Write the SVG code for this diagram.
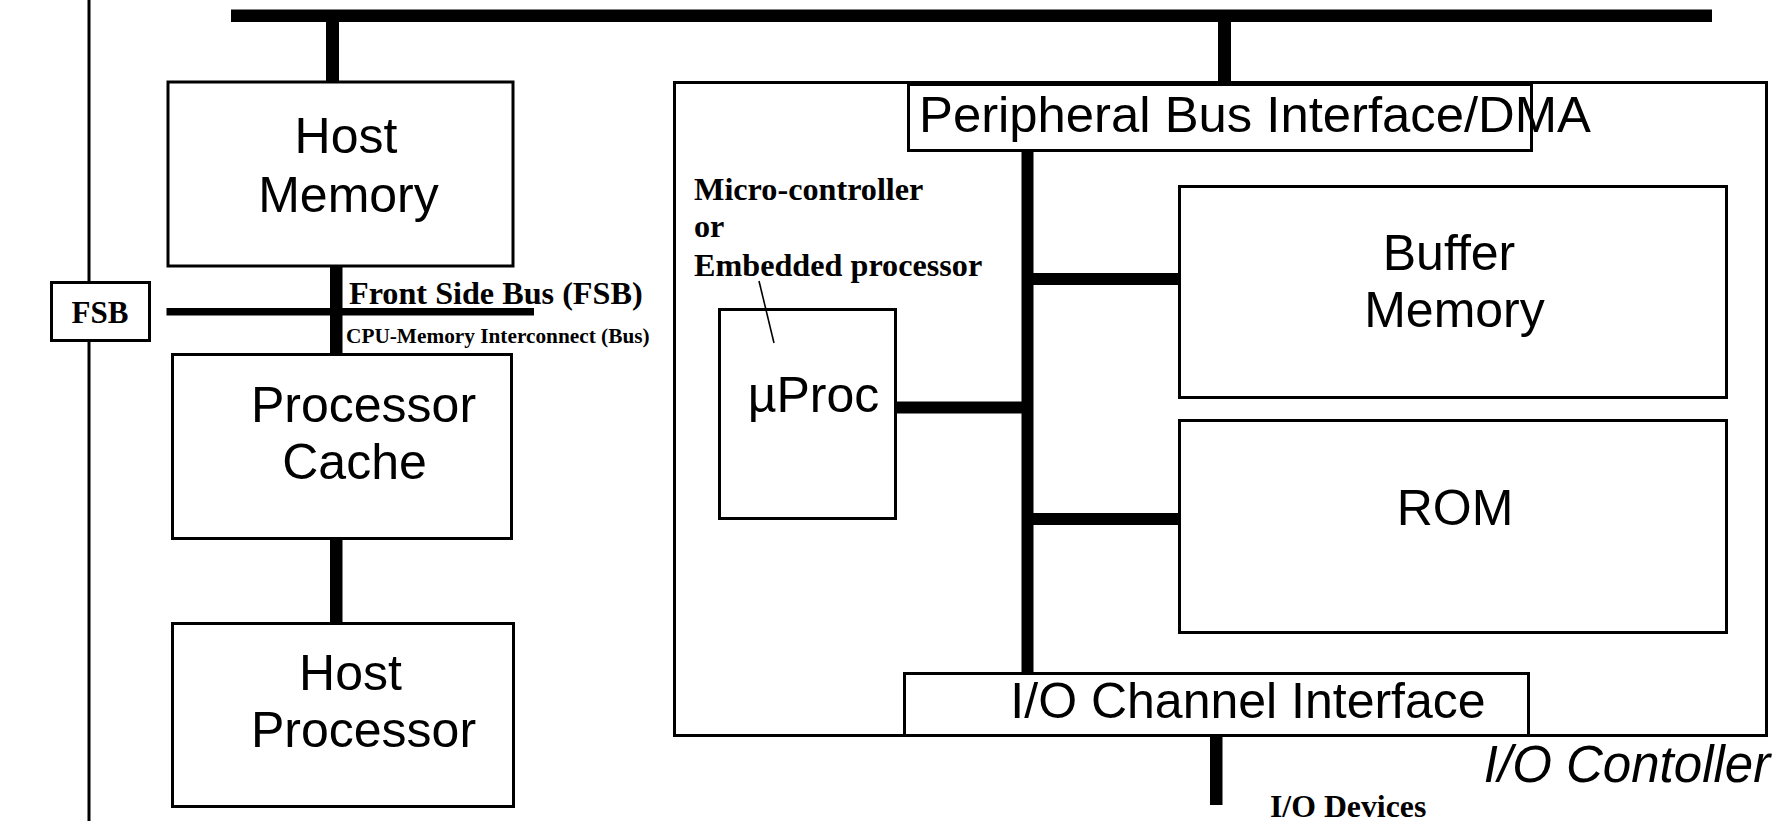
<svg xmlns="http://www.w3.org/2000/svg" width="1783" height="821" viewBox="0 0 1783 821">
<style>
.box{fill:#fff;stroke:#000;stroke-width:3}
.bar{fill:#000}
.sans{font-family:"Liberation Sans",Arial,sans-serif;font-size:50px;fill:#000;text-anchor:middle}
.lbl{font-family:"Liberation Serif","Times New Roman",serif;font-weight:bold;font-size:32.2px;fill:#000}
</style>
<rect width="1783" height="821" fill="#fff"/>
<g id="connectors">
  <rect class="bar" x="87.5" y="0" width="3" height="821"/>
  <rect class="bar" x="231" y="9.5" width="1481" height="12.5"/>
  <rect class="bar" x="326" y="21" width="13" height="63"/>
  <rect class="bar" x="1218" y="21" width="13" height="65"/>
  <rect class="bar" x="166.5" y="308" width="367.5" height="7.5"/>
  <rect class="bar" x="330" y="267" width="12.5" height="88"/>
  <rect class="bar" x="330" y="538" width="12.5" height="86"/>
  <rect class="bar" x="1021.5" y="151" width="12" height="522"/>
  <rect class="bar" x="896" y="401.5" width="132" height="12"/>
  <rect class="bar" x="1028" y="273" width="152" height="12"/>
  <rect class="bar" x="1028" y="513" width="158" height="12"/>
  <rect class="bar" x="1210" y="736" width="12.5" height="69"/>
  <line x1="759" y1="281" x2="774" y2="343" stroke="#000" stroke-width="1.6"/>
</g>
<g id="fsb">
  <rect class="box" x="51.5" y="282.5" width="98" height="58"/>
  <text class="lbl" x="100" y="323" text-anchor="middle" style="font-size:31px">FSB</text>
</g>
<g id="host-memory">
  <rect class="box" x="168" y="82" width="345" height="184"/>
  <text class="sans" x="346" y="153">Host</text>
  <text class="sans" x="348.5" y="212">Memory</text>
</g>
<g id="fsb-labels">
  <text class="lbl" x="349" y="304">Front Side Bus (FSB)</text>
  <text class="lbl" x="346" y="343" style="font-size:21.3px">CPU-Memory Interconnect (Bus)</text>
</g>
<g id="processor-cache">
  <rect class="box" x="172.5" y="354.5" width="339" height="184"/>
  <text class="sans" x="363.5" y="422">Processor</text>
  <text class="sans" x="354.5" y="479">Cache</text>
</g>
<g id="host-processor">
  <rect class="box" x="172.5" y="623.5" width="341" height="183"/>
  <text class="sans" x="350.5" y="690">Host</text>
  <text class="sans" x="363.5" y="747">Processor</text>
</g>
<g id="io-controller">
  <rect class="box" x="674.5" y="82.5" width="1092" height="653" style="fill:none"/>
  <text class="sans" x="1627" y="782" style="font-style:italic;font-size:51px">I/O Contoller</text>
</g>
<g id="peripheral-bus-interface">
  <rect class="box" x="908.5" y="84.5" width="623" height="66"/>
  <text class="sans" x="1255" y="132" style="font-size:50.8px">Peripheral Bus Interface/DMA</text>
  <line x1="1531.5" y1="84.5" x2="1531.5" y2="150.5" stroke="#000" stroke-width="3"/>
</g>
<g id="micro-label">
  <text class="lbl" x="694" y="200">Micro-controller</text>
  <text class="lbl" x="694" y="237">or</text>
  <text class="lbl" x="694" y="276">Embedded processor</text>
</g>
<g id="uproc">
  <rect class="box" x="719.5" y="309.5" width="176" height="209" style="fill:none"/>
  <text class="sans" x="813.5" y="412">µProc</text>
</g>
<g id="buffer-memory">
  <rect class="box" x="1179.5" y="186.5" width="547" height="211"/>
  <text class="sans" x="1449" y="270">Buffer</text>
  <text class="sans" x="1454.5" y="327">Memory</text>
</g>
<g id="rom">
  <rect class="box" x="1179.5" y="420.5" width="547" height="212"/>
  <text class="sans" x="1455" y="525">ROM</text>
</g>
<g id="io-channel-interface">
  <rect class="box" x="904.5" y="673.5" width="624" height="62"/>
  <text class="sans" x="1248" y="718">I/O Channel Interface</text>
</g>
<g id="io-devices">
  <text class="lbl" x="1270" y="817" style="font-size:31.8px">I/O Devices</text>
</g>
</svg>
